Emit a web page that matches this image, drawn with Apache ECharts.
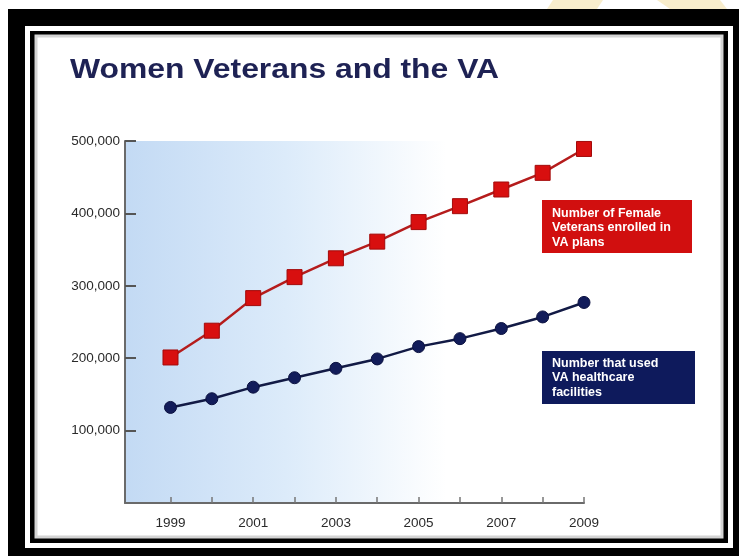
<!DOCTYPE html>
<html>
<head>
<meta charset="utf-8">
<script src="https://cdn.jsdelivr.net/npm/echarts@6/dist/echarts.min.js"></script>
<style>
html,body{margin:0;padding:0;background:#ffffff;}
#chart{width:739px;height:556px;}
</style>
</head>
<body>
<div id="chart"></div>
<script>
var years = [1999, 2000, 2001, 2002, 2003, 2004, 2005, 2006, 2007, 2008, 2009];
var enrolled = [201000, 238000, 283000, 312000, 338000, 361000, 388000, 410000, 433000, 456000, 489000];
var usedFacilities = [132000, 144000, 160000, 173000, 186000, 199000, 216000, 227000, 241000, 257000, 277000];
var xTickLabels = [1999, 2001, 2003, 2005, 2007, 2009];
var yTickValues = [100000, 200000, 300000, 400000, 500000];
var titleText = 'Women Veterans and the VA';
var enrolledLabel = ['Number of Female', 'Veterans enrolled in', 'VA plans'];
var usedLabel = ['Number that used', 'VA healthcare', 'facilities'];

var chart = echarts.init(document.getElementById('chart'), null, {renderer: 'canvas'});

function pairs(vals) {
  return years.map(function (y, i) { return [y, vals[i]]; });
}

var option = {
  animation: false,
  backgroundColor: '#ffffff',
  grid: {
    left: 125, right: 155, top: 141, bottom: 53,
    show: true, borderWidth: 0,
    backgroundColor: {
      type: 'linear', x: 0, y: 0, x2: 1, y2: 0,
      colorStops: [
        {offset: 0, color: '#c3daf4'},
        {offset: 0.35, color: '#dcebfa'},
        {offset: 0.7, color: '#ffffff'},
        {offset: 1, color: '#ffffff'}
      ]
    }
  },
  xAxis: {
    type: 'value', min: 1997.9, max: 2009,
    splitLine: {show: false},
    axisLine: {show: true, lineStyle: {color: '#6a6a6a', width: 2}},
    axisTick: {show: true, inside: true, length: 6, customValues: years, lineStyle: {color: '#777', width: 1.5}},
    axisLabel: {
      customValues: xTickLabels, margin: 13,
      color: '#2a2a2a', fontFamily: 'Liberation Sans, Arial, sans-serif', fontSize: 13.5,
      formatter: function (v) { return String(v); }
    }
  },
  yAxis: {
    type: 'value', min: 0, max: 500000,
    splitLine: {show: false},
    axisLine: {show: true, lineStyle: {color: '#6a6a6a', width: 2}},
    axisTick: {show: true, inside: true, length: 11, customValues: yTickValues, lineStyle: {color: '#555', width: 2}},
    axisLabel: {
      customValues: yTickValues, margin: 5,
      color: '#2a2a2a', fontFamily: 'Liberation Sans, Arial, sans-serif', fontSize: 13.5,
      formatter: function (v) { return v.toLocaleString('en-US'); }
    }
  },
  series: [
    {
      type: 'line', data: pairs(enrolled),
      symbol: 'rect', symbolSize: 15,
      lineStyle: {color: '#b51c1c', width: 2.5},
      itemStyle: {color: '#d80f0f', borderColor: '#a30a0a', borderWidth: 1}
    },
    {
      type: 'line', data: pairs(usedFacilities),
      symbol: 'circle', symbolSize: 12,
      lineStyle: {color: '#121a45', width: 2.5},
      itemStyle: {color: '#121c5a', borderColor: '#0b1140', borderWidth: 1}
    }
  ],
  graphic: [
    {type: 'polygon', z: -100, silent: true, shape: {points: [[553,0],[603,0],[597,9],[547,9]]}, style: {fill: '#f8edcc'}},
    {type: 'polygon', z: -100, silent: true, shape: {points: [[657,0],[720,0],[727,9],[670,9]]}, style: {fill: '#f8edcc'}},
    {type: 'rect', z: -100, silent: true, shape: {x: 8, y: 9, width: 731, height: 547}, style: {fill: '#000000'}},
    {type: 'rect', z: -99, silent: true, shape: {x: 25, y: 26, width: 708, height: 522}, style: {fill: '#ffffff'}},
    {type: 'rect', z: -98, silent: true, shape: {x: 30, y: 31, width: 698, height: 512}, style: {fill: '#000000'}},
    {type: 'rect', z: -97, silent: true, shape: {x: 36, y: 36, width: 686, height: 501}, style: {fill: '#ffffff', stroke: '#d4d4d4', lineWidth: 3}},
    {
      type: 'text', z: 10, left: 70, top: 57, scaleX: 1.18,
      style: {text: titleText, fill: '#1e2254', font: 'bold 27px "Liberation Sans", Arial, sans-serif'}
    },
    {
      type: 'group', left: 542, top: 200, z: 10,
      children: [
        {type: 'rect', shape: {x: 0, y: 0, width: 150, height: 53}, style: {fill: '#d10f0f'}},
        {type: 'text', x: 10, y: 6, style: {text: enrolledLabel.join('\n'), fill: '#ffffff', lineHeight: 14.5, font: 'bold 12.5px "Liberation Sans", Arial, sans-serif'}}
      ]
    },
    {
      type: 'group', left: 542, top: 351, z: 10,
      children: [
        {type: 'rect', shape: {x: 0, y: 0, width: 153, height: 53}, style: {fill: '#0e1a5c'}},
        {type: 'text', x: 10, y: 5, style: {text: usedLabel.join('\n'), fill: '#ffffff', lineHeight: 14.5, font: 'bold 12.5px "Liberation Sans", Arial, sans-serif'}}
      ]
    }
  ]
};
chart.setOption(option);
</script>
</body>
</html>
